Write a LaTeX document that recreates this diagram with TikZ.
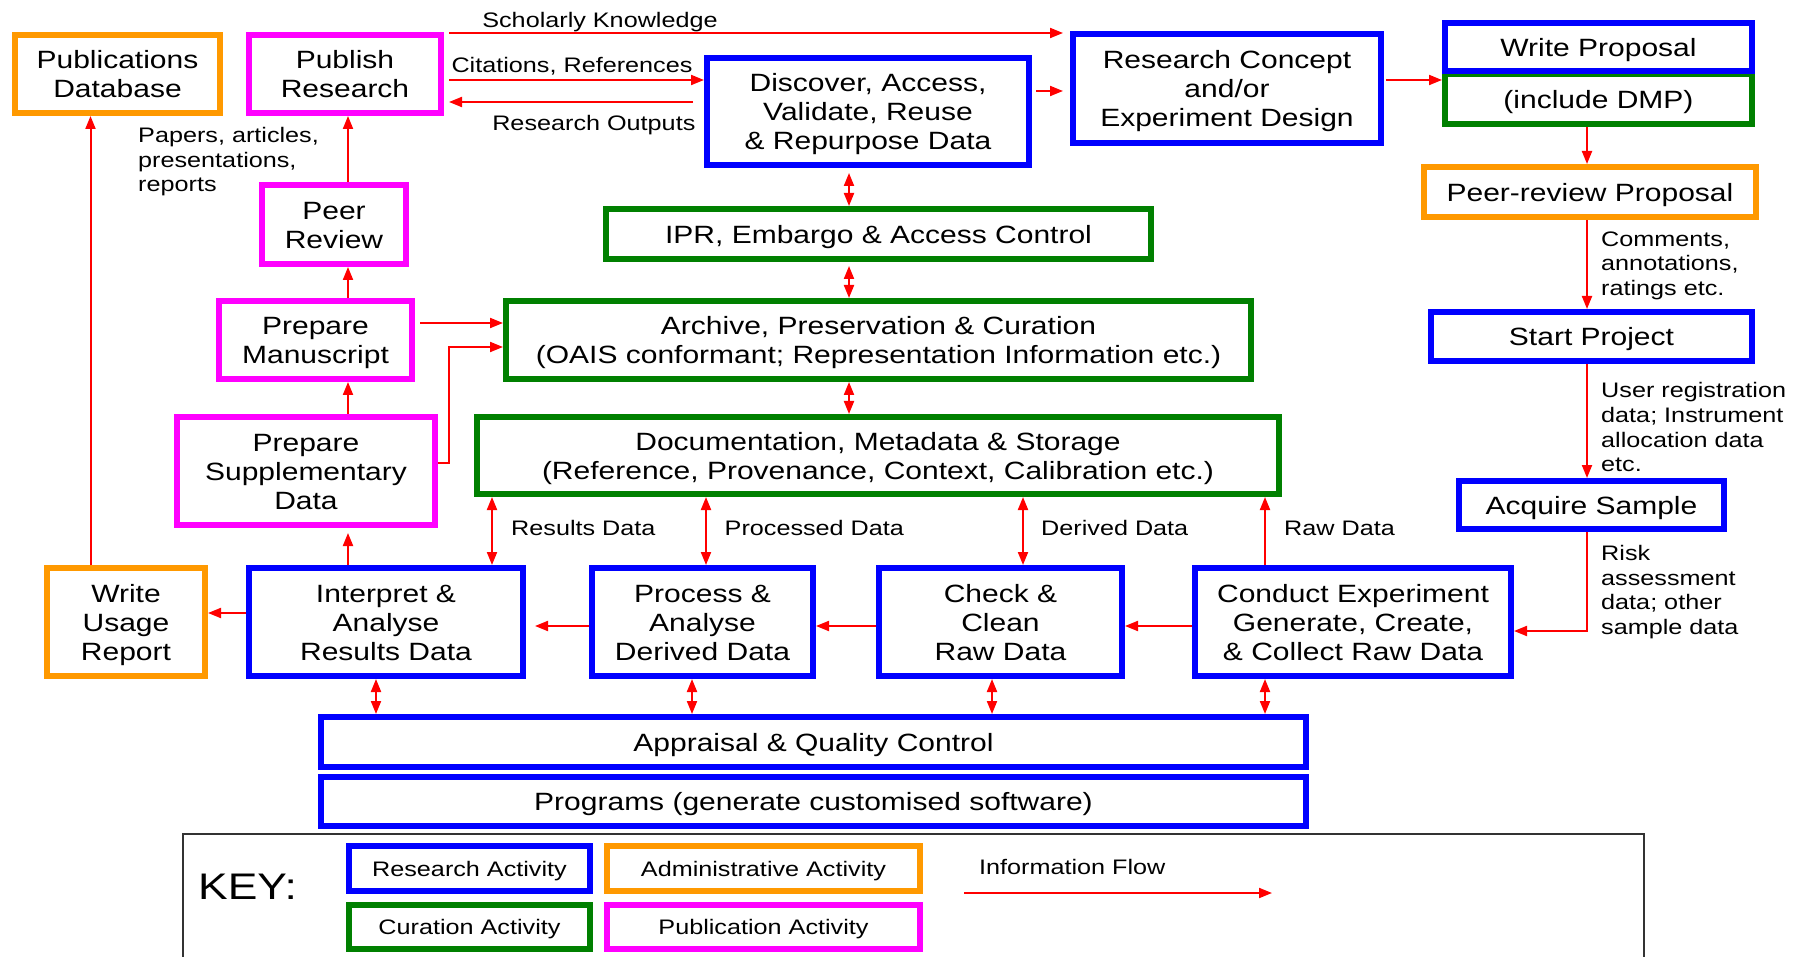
\documentclass[tikz,border=0pt]{standalone}
\usepackage{fontspec}
\setmainfont[FakeStretch=1.2]{Liberation Sans}
\usetikzlibrary{arrows.meta}

\definecolor{resblue}{RGB}{0,0,255}
\definecolor{curgreen}{RGB}{0,128,0}
\definecolor{admorange}{RGB}{255,153,0}
\definecolor{pubmagenta}{RGB}{255,0,255}
\definecolor{flowred}{RGB}{255,0,0}

\newcommand{\bxfont}{\fontsize{25}{29}\selectfont}
\newcommand{\lbfont}{\fontsize{21}{24.6}\selectfont}
\newcommand{\kyfont}{\fontsize{37}{40}\selectfont}

\begin{document}
\begin{tikzpicture}[x=1pt,y=-1pt,
  % fixed text box extents (baseline of the last line) keep the lettering optically centred
  box/.style={draw, line width=6pt, inner sep=0pt, align=center, font=\bxfont, text=black,
    text height=23.5pt, text depth=5.25pt},
  two/.style={text height=52.5pt},
  three/.style={text height=81.5pt},
  res/.style={box, draw=resblue},
  cur/.style={box, draw=curgreen},
  adm/.style={box, draw=admorange},
  pub/.style={box, draw=pubmagenta},
  small/.style={font=\lbfont, text height=19.7pt, text depth=4.4pt},
  lbl/.style={font=\lbfont, inner sep=0pt, text=black, align=left},
  arr/.style={draw=flowred, line width=2pt, -{Triangle[length=13pt,width=10pt]}},
  darr/.style={draw=flowred, line width=2pt, {Triangle[length=13pt,width=10pt]}-{Triangle[length=13pt,width=10pt]}},
  keyline/.style={draw=black!80, line width=2pt}
]
\useasboundingbox (0,0) rectangle (1797,957);
\fill[white] (0,0) rectangle (1797,957);

% ---------- publication column ----------
\node[adm, two, minimum width=205pt, minimum height=78pt] (pubdb) at (117.5,74) {Publications\\Database};
\node[pub, two, minimum width=192pt, minimum height=78pt] (publish) at (345,74) {Publish\\Research};
\node[pub, two, minimum width=144pt, minimum height=79pt] (peer) at (334,224.5) {Peer\\Review};
\node[pub, two, minimum width=193pt, minimum height=78pt] (manus) at (315.5,340) {Prepare\\Manuscript};
\node[pub, three, minimum width=258pt, minimum height=108pt] (supp) at (306,471) {Prepare\\Supplementary\\Data};
\node[adm, three, minimum width=158pt, minimum height=108pt] (usage) at (126,622) {Write\\Usage\\Report};

% ---------- experiment row ----------
\node[res, three, minimum width=274pt, minimum height=108pt] (interp) at (386,622) {Interpret \&\\Analyse\\Results Data};
\node[res, three, minimum width=221pt, minimum height=108pt] (proc) at (702.5,622) {Process \&\\Analyse\\Derived Data};
\node[res, three, minimum width=243pt, minimum height=108pt] (check) at (1000.5,622) {Check \&\\Clean\\Raw Data};
\node[res, three, minimum width=316pt, minimum height=108pt] (conduct) at (1353,622) {Conduct Experiment\\Generate, Create,\\\& Collect Raw Data};

% ---------- curation stack ----------
\node[res, three, minimum width=322pt, minimum height=107pt] (disc) at (868,111.5) {Discover, Access,\\Validate, Reuse\\\& Repurpose Data};
\node[cur, minimum width=545pt, minimum height=50pt] (ipr) at (878.5,234) {IPR, Embargo \& Access Control};
\node[cur, two, minimum width=745pt, minimum height=78pt] (arch) at (878.5,340) {Archive, Preservation \& Curation\\(OAIS conformant; Representation Information etc.)};
\node[cur, two, minimum width=802pt, minimum height=77pt] (doc) at (878,455.5) {Documentation, Metadata \& Storage\\(Reference, Provenance, Context, Calibration etc.)};

% ---------- proposal column ----------
\node[res, three, minimum width=308pt, minimum height=109pt] (concept) at (1227,88.5) {Research Concept\\and/or\\Experiment Design};
\node[cur, minimum width=307pt, minimum height=50pt] (dmp) at (1598.5,99) {(include DMP)};
\node[res, minimum width=307pt, minimum height=48pt] (writep) at (1598.5,47) {Write Proposal};
\node[adm, minimum width=332pt, minimum height=50pt] (peerp) at (1590,192) {Peer-review Proposal};
\node[res, minimum width=321pt, minimum height=49pt] (start) at (1591.5,336.5) {Start Project};
\node[res, minimum width=265pt, minimum height=48pt] (acquire) at (1591.5,505) {Acquire Sample};

% ---------- bottom bars ----------
\node[res, minimum width=985pt, minimum height=50pt] (appr) at (813.5,742) {Appraisal \& Quality Control};
\node[res, minimum width=985pt, minimum height=49pt] (prog) at (813.5,801.5) {Programs (generate customised software)};

% ---------- helper levels and columns ----------
\coordinate (ySK) at (0,33);
\coordinate (yCR) at (0,80);
\coordinate (yRO) at (0,102);
\coordinate (yDC) at (0,91);
\coordinate (yCW) at (0,80);
\coordinate (yMA) at (0,323);
\coordinate (ySA) at (0,463);
\coordinate (yAR) at (0,347);
\coordinate (yRS) at (0,631);
\coordinate (yFL) at (0,626);
\coordinate (yIU) at (0,613);
\coordinate (xPub) at (348,0);
\coordinate (xDb) at (90.5,0);
\coordinate (xSA) at (449,0);
\coordinate (xSpine) at (849,0);
\coordinate (xRD) at (492,0);
\coordinate (xPD) at (706,0);
\coordinate (xDD) at (1023,0);
\coordinate (xRaw) at (1265,0);
\coordinate (xA1) at (376,0);
\coordinate (xA2) at (692,0);
\coordinate (xA3) at (992,0);
\coordinate (xA4) at (1265,0);
\coordinate (xRt) at (1587,0);

% ---------- information flow ----------
\draw[arr, shorten <=5pt, shorten >=7pt] (publish.east |- ySK) -- (concept.west |- ySK);
\draw[arr, shorten <=5pt] (publish.east |- yCR) -- (disc.west |- yCR);
\draw[arr, shorten <=11pt, shorten >=5pt] (disc.west |- yRO) -- (publish.east |- yRO);
\draw[arr, shorten <=4pt, shorten >=7pt] (disc.east |- yDC) -- (concept.west |- yDC);
\draw[arr, shorten <=2pt] (concept.east |- yCW) -- (dmp.west |- yCW);
\draw[arr] (dmp.south -| xRt) -- (peerp.north -| xRt);
\draw[arr] (peerp.south -| xRt) -- (start.north -| xRt);
\draw[arr] (start.south -| xRt) -- (acquire.north -| xRt);
\draw[arr] (acquire.south -| xRt) |- (conduct.east |- yRS);
\draw[arr] (conduct.west |- yFL) -- (check.east |- yFL);
\draw[arr] (check.west |- yFL) -- (proc.east |- yFL);
\draw[arr, shorten >=9pt] (proc.west |- yFL) -- (interp.east |- yFL);
\draw[arr] (interp.west |- yIU) -- (usage.east |- yIU);
\draw[arr] (usage.north -| xDb) -- (pubdb.south -| xDb);
\draw[arr, shorten >=5pt] (interp.north -| xPub) -- (supp.south -| xPub);
\draw[arr] (supp.north -| xPub) -- (manus.south -| xPub);
\draw[arr] (manus.north -| xPub) -- (peer.south -| xPub);
\draw[arr] (peer.north -| xPub) -- (publish.south -| xPub);
\draw[arr, shorten <=5pt] (manus.east |- yMA) -- (arch.west |- yMA);
\draw[arr] (supp.east |- ySA) -| (xSA |- yAR) -- (arch.west |- yAR);

\draw[darr, shorten <=5pt] (disc.south -| xSpine) -- (ipr.north -| xSpine);
\draw[darr, shorten <=4pt] (ipr.south -| xSpine) -- (arch.north -| xSpine);
\draw[darr] (arch.south -| xSpine) -- (doc.north -| xSpine);
\draw[darr] (doc.south -| xRD) -- (interp.north -| xRD);
\draw[darr] (doc.south -| xPD) -- (proc.north -| xPD);
\draw[darr] (doc.south -| xDD) -- (check.north -| xDD);
\draw[arr] (conduct.north -| xRaw) -- (doc.south -| xRaw);

\draw[darr] (interp.south -| xA1) -- (appr.north -| xA1);
\draw[darr] (proc.south -| xA2) -- (appr.north -| xA2);
\draw[darr] (check.south -| xA3) -- (appr.north -| xA3);
\draw[darr] (conduct.south -| xA4) -- (appr.north -| xA4);

% ---------- flow labels ----------
\node[lbl, anchor=base] (lsk) at (600,27.3) {Scholarly Knowledge};
\node[lbl, anchor=base] (lcr) at (572,72.7) {Citations, References};
\node[lbl, anchor=base east] (lro) at (695.6,130.7) {Research Outputs};
\node[lbl, anchor=north west] (lpap) at (138,127) {Papers, articles,\\presentations,\\reports};
\node[lbl, anchor=north west] (lcom) at (1601,231.5) {Comments,\\annotations,\\ratings etc.};
\node[lbl, anchor=north west] (lusr) at (1601,382.5) {User registration\\data; Instrument\\allocation data\\etc.};
\node[lbl, anchor=north west] (lrisk) at (1601,545) {Risk\\assessment\\data; other\\sample data};
\node[lbl, anchor=base west] (lrd) at (511,535.7) {Results Data};
\node[lbl, anchor=base west] (lpd) at (724.5,535.7) {Processed Data};
\node[lbl, anchor=base west] (ldd) at (1041,535.7) {Derived Data};
\node[lbl, anchor=base west] (lraw) at (1284,535.7) {Raw Data};

% ---------- key ----------
\draw[keyline] (183,962) -- (183,834) -- (1644,834) -- (1644,962);
\node[font=\kyfont, inner sep=0pt] (keyt) at (247.5,887) {KEY:};
\node[res, small, minimum width=241pt, minimum height=45pt] (lres) at (469.5,868.5) {Research Activity};
\node[adm, small, minimum width=313pt, minimum height=45pt] (ladm) at (763.5,868.5) {Administrative Activity};
\node[cur, small, minimum width=241pt, minimum height=44pt] (lcur) at (469.5,927) {Curation Activity};
\node[pub, small, minimum width=313pt, minimum height=44pt] (lpub) at (763.5,927) {Publication Activity};
\node[lbl, anchor=base west] (lflow) at (979,874.3) {Information Flow};
\coordinate (kf1) at (964,893);
\coordinate (kf2) at (1272,893);
\draw[arr] (kf1) -- (kf2);
\end{tikzpicture}
\end{document}
